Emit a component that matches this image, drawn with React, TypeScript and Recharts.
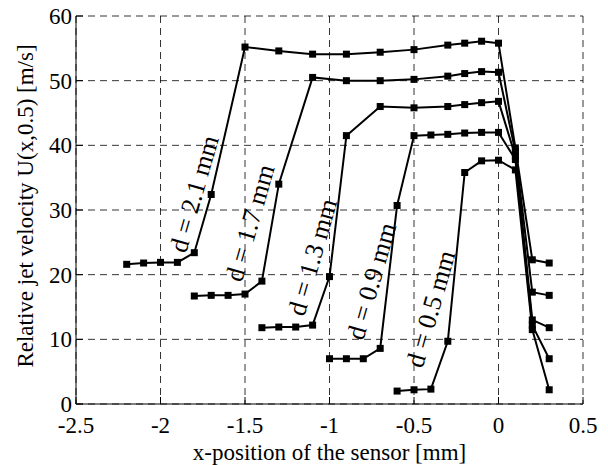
import React from "react";
import { LineChart, Line, XAxis, YAxis, CartesianGrid, ReferenceDot } from "recharts";

// x positions [mm] and velocities [m/s] per nozzle distance d
const x21 = [-2.2, -2.1, -2.0, -1.9, -1.8, -1.7, -1.5, -1.3, -1.1, -0.9, -0.7, -0.5, -0.3, -0.2, -0.1, 0, 0.1, 0.2, 0.3];
const u21 = [21.6, 21.8, 21.9, 21.9, 23.4, 32.4, 55.2, 54.6, 54.1, 54.1, 54.4, 54.8, 55.5, 55.8, 56.1, 55.8, 39.6, 22.3, 21.8];

const x17 = [-1.8, -1.7, -1.6, -1.5, -1.4, -1.3, -1.1, -0.9, -0.7, -0.5, -0.3, -0.2, -0.1, 0, 0.1, 0.2, 0.3];
const u17 = [16.7, 16.8, 16.8, 17.0, 19.0, 34.0, 50.5, 50.0, 50.0, 50.2, 50.7, 51.1, 51.4, 51.3, 39.0, 17.3, 16.8];

const x13 = [-1.4, -1.3, -1.2, -1.1, -1.0, -0.9, -0.7, -0.5, -0.3, -0.2, -0.1, 0, 0.1, 0.2, 0.3];
const u13 = [11.8, 11.9, 11.9, 12.2, 19.7, 41.5, 46.0, 45.8, 46.0, 46.3, 46.6, 46.8, 38.3, 13.0, 11.8];

const x09 = [-1.0, -0.9, -0.8, -0.7, -0.6, -0.5, -0.4, -0.3, -0.2, -0.1, 0, 0.1, 0.2, 0.3];
const u09 = [7.0, 7.0, 7.0, 8.6, 30.7, 41.5, 41.6, 41.7, 41.9, 42.0, 42.0, 37.8, 12.2, 7.0];

const x05 = [-0.6, -0.5, -0.4, -0.3, -0.2, -0.1, 0, 0.1, 0.2, 0.3];
const u05 = [2.0, 2.2, 2.3, 9.7, 35.8, 37.6, 37.7, 36.2, 11.5, 2.2];

const seriesNames = ["d = 2.1 mm", "d = 1.7 mm", "d = 1.3 mm", "d = 0.9 mm", "d = 0.5 mm"];
// where each rotated label sits (data coords)
const labelX = [-1.8, -1.47, -1.1, -0.75, -0.4];
const labelY = [32.5, 28.0, 22.7, 19.0, 14.7];

const xTicks = [-2.5, -2, -1.5, -1, -0.5, 0, 0.5];
const yTicks = [0, 10, 20, 30, 40, 50, 60];

const zip = (xs: number[], ys: number[]) => xs.map((x, i) => ({ x, y: ys[i] }));
const series = [zip(x21, u21), zip(x17, u17), zip(x13, u13), zip(x09, u09), zip(x05, u05)];

const FONT = "'Liberation Serif', 'Times New Roman', serif";
const FS = 23;

const SquareDot = (props: any) => {
  const { cx, cy } = props;
  if (cx == null || cy == null) return null;
  return <rect x={cx - 3.5} y={cy - 3.5} width={7} height={7} fill="#000" />;
};

const RotLabel = (text: string) => (props: any) => {
  const { cx, cy } = props;
  return (
    <text
      x={cx}
      y={cy}
      transform={`rotate(-74, ${cx}, ${cy})`}
      textAnchor="middle"
      dominantBaseline="central"
      fontFamily={FONT}
      fontSize={26}
      fill="#000"
    >
      {text}
    </text>
  );
};

const tickStyle = { fill: "#000", fontFamily: FONT, fontSize: FS };

export default function App() {
  return (
    <div style={{ position: "absolute", left: 0, top: 0, background: "#fff" }}>
      <LineChart
        width={608}
        height={465}
        margin={{ top: 16, right: 25, bottom: 0, left: 0 }}
        style={{ fontFamily: FONT }}
      >
        <CartesianGrid stroke="#000" strokeDasharray="7 5" strokeWidth={0.8} />
        <XAxis
          dataKey="x"
          type="number"
          domain={[-2.5, 0.5]}
          ticks={xTicks}
          allowDuplicatedCategory={false}
          height={61}
          stroke="#000"
          tickSize={-7}
          tickMargin={20}
          tick={tickStyle}
          label={{
            value: "x-position of the sensor [mm]",
            position: "insideBottom",
            offset: 5,
            fill: "#000",
            fontSize: FS,
            fontFamily: FONT,
          }}
        />
        <XAxis
          xAxisId="top"
          orientation="top"
          type="number"
          domain={[-2.5, 0.5]}
          ticks={xTicks}
          height={0}
          stroke="#000"
          tickSize={-7}
          tick={false}
        />
        <YAxis
          type="number"
          domain={[0, 60]}
          ticks={yTicks}
          width={76}
          stroke="#000"
          tickSize={-7}
          tickMargin={11}
          tick={tickStyle}
          label={{
            content: (p: any) => {
              const vb = p.viewBox;
              const cx = 33;
              const cy = vb.y + vb.height / 2 - 4;
              return (
                <text
                  x={cx}
                  y={cy}
                  transform={`rotate(-90, ${cx}, ${cy})`}
                  textAnchor="middle"
                  fontFamily={FONT}
                  fontSize={FS}
                  fill="#000"
                >
                  Relative jet velocity U(x,0.5) [m/s]
                </text>
              );
            },
          }}
        />
        <YAxis
          yAxisId="right"
          orientation="right"
          type="number"
          domain={[0, 60]}
          ticks={yTicks}
          width={0}
          stroke="#000"
          tickSize={-7}
          tick={false}
        />
        {series.map((d, i) => (
          <Line
            key={seriesNames[i]}
            data={d}
            dataKey="y"
            type="linear"
            stroke="#000"
            strokeWidth={2}
            dot={<SquareDot />}
            activeDot={false}
            isAnimationActive={false}
          />
        ))}
        {seriesNames.map((name, i) => (
          <ReferenceDot
            key={"lbl" + name}
            x={labelX[i]}
            y={labelY[i]}
            r={0}
            ifOverflow="visible"
            shape={RotLabel(name)}
          />
        ))}
      </LineChart>
    </div>
  );
}
